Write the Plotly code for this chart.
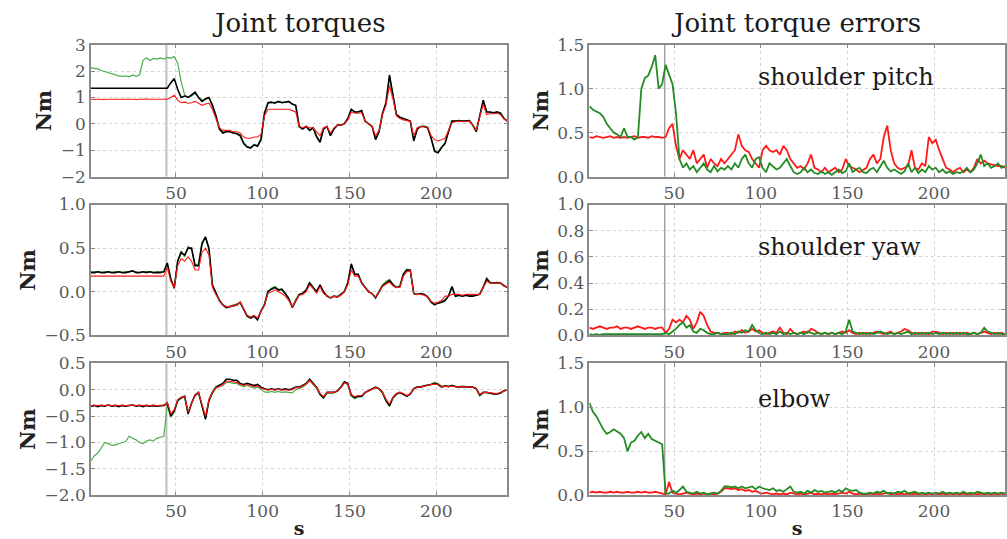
import plotly.graph_objects as go

# time axis (s)
t = list(range(1, 242, 2))

# ---------------- Joint torques: shoulder pitch ----------------
tau1_black = [
    1.35, 1.35, 1.36, 1.34, 1.35, 1.36, 1.35, 1.34, 1.35, 1.36,
    1.35, 1.34, 1.36, 1.35, 1.35, 1.36, 1.34, 1.35, 1.36, 1.35,
    1.35, 1.36, 1.35, 1.55, 1.72, 1.30, 1.00, 1.05, 1.00, 1.10,
    1.20, 1.00, 0.85, 0.95, 1.00, 0.70, 0.30, -0.20, -0.35, -0.30,
    -0.30, -0.35, -0.38, -0.45, -0.75, -0.88, -0.92, -0.80, -0.85, -0.60,
    0.40, 0.80, 0.82, 0.78, 0.85, 0.80, 0.82, 0.85, 0.75, 0.70,
    -0.10, -0.20, -0.10, -0.25, -0.15, -0.50, -0.70, -0.20, -0.10, -0.45,
    -0.20, -0.05, -0.05, 0.00, 0.20, 0.55, 0.45, 0.45, 0.50, 0.10,
    0.00, -0.10, -0.60, -0.30, 0.40, 0.80, 1.85, 1.10, 0.35, 0.25,
    0.20, 0.15, 0.10, -0.65, -0.20, -0.10, -0.10, -0.15, -0.55, -1.05,
    -1.10, -0.90, -0.75, -0.30, 0.10, 0.10, 0.12, 0.10, 0.10, 0.12,
    -0.05, -0.30, 0.30, 0.90, 0.45, 0.45, 0.42, 0.45, 0.40, 0.20,
    0.10]
tau1_green = [
    2.12, 2.10, 2.08, 2.02, 1.98, 1.92, 1.88, 1.85, 1.82, 1.80,
    1.82, 1.78, 1.85, 1.80, 1.85, 2.40, 2.50, 2.40, 2.48, 2.45,
    2.50, 2.45, 2.52, 2.48, 2.55, 2.30, 1.60, 1.10, 1.00, 1.05,
    1.15, 1.02, 0.90, 0.92, 0.98, 0.72, 0.35, -0.15, -0.30, -0.28,
    -0.28, -0.33, -0.36, -0.42, -0.70, -0.85, -0.90, -0.78, -0.82, -0.55,
    0.38, 0.78, 0.80, 0.80, 0.83, 0.82, 0.80, 0.83, 0.76, 0.68,
    -0.12, -0.18, -0.12, -0.22, -0.15, -0.45, -0.65, -0.20, -0.12, -0.40,
    -0.18, -0.05, -0.03, 0.00, 0.18, 0.52, 0.45, 0.47, 0.48, 0.12,
    0.00, -0.08, -0.55, -0.28, 0.38, 0.78, 1.75, 1.05, 0.35, 0.25,
    0.20, 0.15, 0.10, -0.60, -0.18, -0.10, -0.08, -0.15, -0.52, -1.00,
    -1.05, -0.88, -0.72, -0.28, 0.10, 0.12, 0.12, 0.10, 0.12, 0.12,
    -0.05, -0.28, 0.28, 0.85, 0.45, 0.43, 0.42, 0.43, 0.40, 0.20,
    0.10]
tau1_red = [
    0.93, 0.94, 0.93, 0.92, 0.93, 0.94, 0.93, 0.93, 0.92, 0.93,
    0.93, 0.94, 0.93, 0.92, 0.93, 0.93, 0.94, 0.93, 0.92, 0.93,
    0.93, 0.93, 0.93, 1.00, 1.08, 0.90, 0.80, 0.82, 0.78, 0.80,
    0.85, 0.78, 0.70, 0.75, 0.78, 0.55, 0.20, -0.15, -0.25, -0.25,
    -0.25, -0.30, -0.30, -0.35, -0.50, -0.55, -0.55, -0.50, -0.50, -0.40,
    0.30, 0.55, 0.55, 0.55, 0.55, 0.55, 0.55, 0.55, 0.50, 0.45,
    -0.10, -0.15, -0.10, -0.15, -0.15, -0.30, -0.45, -0.15, -0.10, -0.35,
    -0.15, -0.05, -0.05, 0.00, 0.15, 0.45, 0.40, 0.40, 0.42, 0.10,
    0.00, -0.10, -0.45, -0.25, 0.35, 0.70, 1.45, 0.95, 0.30, 0.20,
    0.15, 0.12, 0.10, -0.45, -0.15, -0.10, -0.10, -0.12, -0.45, -0.60,
    -0.65, -0.60, -0.55, -0.25, 0.05, 0.08, 0.10, 0.08, 0.08, 0.10,
    -0.05, -0.25, 0.25, 0.75, 0.35, 0.38, 0.38, 0.40, 0.35, 0.18,
    0.10]

# ---------------- Joint torques: shoulder yaw ----------------
tau2_black = [
    0.22, 0.22, 0.23, 0.22, 0.22, 0.23, 0.22, 0.22, 0.23, 0.22,
    0.22, 0.23, 0.24, 0.22, 0.22, 0.23, 0.22, 0.23, 0.22, 0.22,
    0.22, 0.23, 0.33, 0.15, 0.04, 0.35, 0.45, 0.42, 0.50, 0.50,
    0.30, 0.30, 0.55, 0.63, 0.50, 0.08, -0.02, -0.10, -0.15, -0.18,
    -0.17, -0.16, -0.15, -0.12, -0.20, -0.28, -0.30, -0.28, -0.32, -0.22,
    -0.15, 0.00, 0.03, 0.05, 0.02, 0.03, -0.02, -0.08, -0.18, -0.10,
    -0.03, -0.02, 0.02, 0.10, 0.05, 0.00, 0.08, 0.00, -0.05, -0.07,
    -0.05, -0.06, -0.03, 0.00, 0.10, 0.32, 0.20, 0.20, 0.10, 0.05,
    0.00, -0.02, -0.07, 0.00, 0.07, 0.10, 0.13, 0.08, 0.05, 0.06,
    0.20, 0.25, 0.25, -0.02, -0.03, -0.02, -0.03, -0.06, -0.12, -0.15,
    -0.13, -0.12, -0.10, -0.05, 0.06, -0.05, -0.04, -0.05, -0.04, -0.05,
    -0.05, -0.04, -0.03, 0.05, 0.15, 0.10, 0.10, 0.10, 0.10, 0.07,
    0.05]
tau2_green = [
    0.23, 0.23, 0.23, 0.22, 0.23, 0.23, 0.22, 0.23, 0.23, 0.22,
    0.23, 0.23, 0.24, 0.23, 0.22, 0.23, 0.23, 0.23, 0.22, 0.23,
    0.23, 0.23, 0.32, 0.14, 0.05, 0.36, 0.47, 0.40, 0.52, 0.48,
    0.31, 0.32, 0.57, 0.62, 0.48, 0.07, -0.02, -0.09, -0.15, -0.17,
    -0.17, -0.15, -0.14, -0.13, -0.20, -0.27, -0.29, -0.27, -0.31, -0.21,
    -0.14, 0.01, 0.04, 0.06, 0.03, 0.02, -0.02, -0.07, -0.17, -0.09,
    -0.03, -0.01, 0.02, 0.11, 0.04, 0.01, 0.07, 0.00, -0.04, -0.07,
    -0.05, -0.05, -0.03, 0.01, 0.11, 0.30, 0.21, 0.19, 0.11, 0.05,
    0.01, -0.02, -0.06, 0.01, 0.08, 0.12, 0.14, 0.09, 0.05, 0.06,
    0.21, 0.26, 0.24, -0.02, -0.03, -0.02, -0.03, -0.05, -0.11, -0.14,
    -0.13, -0.11, -0.09, -0.05, 0.05, -0.05, -0.04, -0.05, -0.04, -0.04,
    -0.05, -0.04, -0.02, 0.06, 0.16, 0.11, 0.10, 0.11, 0.10, 0.07,
    0.05]
tau2_red = [
    0.18, 0.18, 0.18, 0.18, 0.18, 0.18, 0.18, 0.18, 0.18, 0.18,
    0.18, 0.18, 0.18, 0.18, 0.18, 0.18, 0.18, 0.18, 0.18, 0.18,
    0.18, 0.18, 0.28, 0.12, 0.05, 0.30, 0.38, 0.35, 0.40, 0.35,
    0.25, 0.25, 0.45, 0.50, 0.42, 0.05, -0.03, -0.10, -0.15, -0.17,
    -0.17, -0.16, -0.15, -0.12, -0.20, -0.27, -0.29, -0.27, -0.30, -0.22,
    -0.15, -0.02, 0.00, 0.02, 0.00, -0.02, -0.05, -0.10, -0.17, -0.10,
    -0.04, -0.03, 0.00, 0.08, 0.04, -0.02, 0.06, -0.02, -0.05, -0.07,
    -0.05, -0.06, -0.04, 0.00, 0.08, 0.25, 0.18, 0.18, 0.10, 0.05,
    0.00, -0.02, -0.06, 0.00, 0.06, 0.09, 0.11, 0.07, 0.05, 0.05,
    0.18, 0.23, 0.24, -0.02, -0.03, -0.03, -0.04, -0.06, -0.11, -0.13,
    -0.12, -0.10, -0.05, -0.05, -0.03, -0.03, -0.03, -0.04, -0.03, -0.03,
    -0.03, -0.03, -0.03, 0.05, 0.12, 0.10, 0.10, 0.10, 0.10, 0.07,
    0.05]

# ---------------- Joint torques: elbow ----------------
tau3_black = [
    -0.31, -0.30, -0.32, -0.30, -0.31, -0.29, -0.31, -0.30, -0.32, -0.30,
    -0.31, -0.30, -0.29, -0.31, -0.30, -0.32, -0.30, -0.31, -0.30, -0.31,
    -0.30, -0.30, -0.25, -0.50, -0.40, -0.20, -0.15, -0.12, -0.45, -0.25,
    -0.10, -0.05, -0.30, -0.55, -0.20, -0.05, 0.05, 0.08, 0.12, 0.20,
    0.20, 0.18, 0.18, 0.12, 0.10, 0.12, 0.10, 0.08, 0.10, 0.05,
    0.02, 0.00, 0.02, 0.00, 0.02, 0.00, 0.02, 0.00, 0.02, 0.05,
    0.05, 0.08, 0.12, 0.20, 0.12, 0.05, -0.08, -0.15, -0.05, -0.05,
    -0.05, -0.02, 0.05, 0.15, 0.12, -0.10, -0.15, -0.12, -0.12, -0.05,
    -0.02, 0.02, 0.05, 0.02, -0.05, -0.20, -0.30, -0.15, -0.08, -0.05,
    -0.08, -0.12, -0.08, 0.02, 0.05, 0.05, 0.07, 0.08, 0.10, 0.12,
    0.10, 0.05, 0.07, 0.06, 0.08, 0.06, 0.05, 0.06, 0.05, 0.05,
    0.05, 0.02, -0.10, -0.05, -0.05, -0.07, -0.08, -0.08, -0.06, -0.02,
    0.00]
tau3_green = [
    -1.35, -1.25, -1.20, -1.10, -1.00, -1.02, -1.05, -1.05, -1.02, -1.00,
    -0.98, -0.88, -0.92, -0.95, -1.00, -1.02, -0.97, -0.95, -0.97, -0.92,
    -0.90, -0.88, -0.28, -0.52, -0.42, -0.22, -0.16, -0.13, -0.47, -0.26,
    -0.12, -0.06, -0.32, -0.57, -0.22, -0.07, 0.03, 0.05, 0.08, 0.14,
    0.14, 0.12, 0.12, 0.08, 0.06, 0.08, 0.05, 0.03, 0.05, 0.00,
    -0.04, -0.05, -0.03, -0.05, -0.03, -0.05, -0.04, -0.05, -0.06, 0.00,
    0.02, 0.05, 0.10, 0.18, 0.10, 0.03, -0.10, -0.16, -0.07, -0.06,
    -0.06, -0.03, 0.03, 0.13, 0.10, -0.12, -0.17, -0.14, -0.13, -0.06,
    -0.03, 0.01, 0.04, 0.01, -0.06, -0.22, -0.32, -0.16, -0.09, -0.06,
    -0.09, -0.13, -0.08, 0.03, 0.06, 0.06, 0.08, 0.09, 0.11, 0.14,
    0.12, 0.07, 0.08, 0.07, 0.09, 0.07, 0.06, 0.07, 0.06, 0.06,
    0.05, 0.02, -0.12, -0.06, -0.05, -0.07, -0.08, -0.08, -0.06, -0.02,
    0.00]
tau3_red = [
    -0.30, -0.29, -0.30, -0.29, -0.30, -0.29, -0.30, -0.29, -0.30, -0.29,
    -0.30, -0.29, -0.29, -0.30, -0.29, -0.30, -0.29, -0.30, -0.29, -0.30,
    -0.29, -0.29, -0.24, -0.45, -0.38, -0.19, -0.14, -0.12, -0.42, -0.24,
    -0.10, -0.05, -0.28, -0.50, -0.19, -0.05, 0.04, 0.06, 0.10, 0.16,
    0.16, 0.15, 0.14, 0.10, 0.08, 0.10, 0.08, 0.06, 0.07, 0.03,
    0.01, -0.01, 0.01, -0.01, 0.01, -0.01, 0.00, -0.01, 0.00, 0.04,
    0.04, 0.07, 0.11, 0.18, 0.11, 0.04, -0.07, -0.13, -0.05, -0.05,
    -0.05, -0.02, 0.04, 0.13, 0.11, -0.09, -0.13, -0.11, -0.11, -0.05,
    -0.02, 0.02, 0.04, 0.02, -0.05, -0.18, -0.27, -0.14, -0.07, -0.05,
    -0.07, -0.11, -0.07, 0.02, 0.05, 0.05, 0.07, 0.08, 0.10, 0.11,
    0.10, 0.05, 0.07, 0.06, 0.07, 0.06, 0.05, 0.06, 0.05, 0.05,
    0.05, 0.02, -0.09, -0.05, -0.05, -0.06, -0.07, -0.07, -0.05, -0.02,
    0.00]

# ---------------- Joint torque errors ----------------
err1_red = [
    0.45, 0.44, 0.46, 0.45, 0.44, 0.45, 0.46, 0.44, 0.45, 0.44,
    0.45, 0.44, 0.45, 0.46, 0.44, 0.45, 0.45, 0.44, 0.46, 0.45,
    0.45, 0.44, 0.45, 0.55, 0.60, 0.35, 0.20, 0.30, 0.25, 0.20,
    0.30, 0.15, 0.20, 0.25, 0.10, 0.20, 0.15, 0.12, 0.20, 0.15,
    0.20, 0.25, 0.30, 0.48, 0.35, 0.30, 0.28, 0.20, 0.15, 0.10,
    0.30, 0.35, 0.30, 0.28, 0.30, 0.25, 0.35, 0.30, 0.20, 0.15,
    0.10, 0.12, 0.08, 0.15, 0.25, 0.10, 0.08, 0.05, 0.10, 0.05,
    0.08, 0.10, 0.05, 0.08, 0.20, 0.12, 0.10, 0.08, 0.05, 0.08,
    0.10, 0.20, 0.25, 0.15, 0.20, 0.45, 0.58, 0.30, 0.15, 0.10,
    0.08, 0.10, 0.12, 0.30, 0.10, 0.08, 0.15, 0.12, 0.45, 0.38,
    0.42, 0.30, 0.20, 0.10, 0.08, 0.05, 0.08, 0.10, 0.05, 0.08,
    0.05, 0.10, 0.20, 0.15, 0.18, 0.15, 0.14, 0.13, 0.12, 0.12,
    0.10]
err1_green = [
    0.80, 0.76, 0.74, 0.72, 0.68, 0.60, 0.55, 0.50, 0.48, 0.45,
    0.55, 0.45, 0.45, 0.42, 0.45, 1.00, 1.12, 1.15, 1.25, 1.38,
    1.00, 1.05, 1.27, 1.15, 1.05, 0.72, 0.20, 0.10, 0.15, 0.08,
    0.12, 0.05, 0.10, 0.15, 0.08, 0.05, 0.12, 0.06, 0.10, 0.08,
    0.12, 0.08, 0.15, 0.10, 0.20, 0.25, 0.15, 0.10, 0.20, 0.22,
    0.10, 0.05, 0.15, 0.12, 0.08, 0.10, 0.15, 0.20, 0.12, 0.05,
    0.03, 0.05, 0.10, 0.05, 0.08, 0.04, 0.03, 0.06, 0.03, 0.05,
    0.02, 0.05, 0.08, 0.04, 0.06, 0.15, 0.05, 0.08, 0.10, 0.05,
    0.04, 0.08, 0.10, 0.05, 0.12, 0.18, 0.10, 0.06, 0.08, 0.05,
    0.03, 0.06, 0.15, 0.05, 0.10, 0.04, 0.08, 0.05, 0.12, 0.08,
    0.10, 0.05, 0.08, 0.04, 0.06, 0.03, 0.05, 0.04, 0.06, 0.10,
    0.05, 0.08, 0.15, 0.25, 0.12, 0.15, 0.10, 0.12, 0.15, 0.10,
    0.12]
err2_red = [
    0.06, 0.05, 0.06, 0.07, 0.06, 0.05, 0.06, 0.06, 0.07, 0.05,
    0.06, 0.06, 0.05, 0.06, 0.07, 0.06, 0.05, 0.06, 0.06, 0.05,
    0.06, 0.06, 0.02, 0.05, 0.12, 0.10, 0.12, 0.10, 0.15, 0.12,
    0.05, 0.10, 0.18, 0.15, 0.08, 0.03, 0.02, 0.02, 0.01, 0.02,
    0.02, 0.01, 0.03, 0.02, 0.04, 0.02, 0.03, 0.05, 0.03, 0.04,
    0.02, 0.01, 0.02, 0.03, 0.02, 0.06, 0.02, 0.01, 0.05, 0.02,
    0.01, 0.02, 0.03, 0.02, 0.05, 0.04, 0.02, 0.01, 0.02, 0.01,
    0.02, 0.01, 0.02, 0.03, 0.02, 0.04, 0.02, 0.01, 0.02, 0.01,
    0.02, 0.01, 0.02, 0.03, 0.02, 0.01, 0.02, 0.03, 0.01, 0.02,
    0.03, 0.05, 0.04, 0.02, 0.01, 0.02, 0.01, 0.02, 0.01, 0.03,
    0.03, 0.02, 0.01, 0.02, 0.01, 0.02, 0.01, 0.02, 0.01, 0.02,
    0.01, 0.02, 0.01, 0.02, 0.03, 0.02, 0.01, 0.02, 0.01, 0.02,
    0.01]
err2_green = [
    0.01, 0.005, 0.01, 0.005, 0.01, 0.01, 0.005, 0.01, 0.005, 0.01,
    0.01, 0.005, 0.01, 0.01, 0.005, 0.01, 0.005, 0.01, 0.01, 0.005,
    0.01, 0.01, 0.02, 0.01, 0.03, 0.05, 0.08, 0.10, 0.06, 0.08,
    0.03, 0.02, 0.05, 0.04, 0.02, 0.01, 0.01, 0.02, 0.01, 0.01,
    0.01, 0.02, 0.01, 0.03, 0.02, 0.04, 0.03, 0.08, 0.04, 0.02,
    0.01, 0.02, 0.01, 0.02, 0.01, 0.03, 0.01, 0.02, 0.01, 0.02,
    0.01, 0.02, 0.01, 0.03, 0.02, 0.01, 0.02, 0.01, 0.02, 0.01,
    0.02, 0.01, 0.02, 0.01, 0.03, 0.12, 0.03, 0.02, 0.01, 0.02,
    0.01, 0.02, 0.01, 0.02, 0.03, 0.02, 0.01, 0.02, 0.01, 0.02,
    0.01, 0.02, 0.03, 0.01, 0.02, 0.01, 0.02, 0.01, 0.02, 0.01,
    0.02, 0.01, 0.02, 0.01, 0.02, 0.01, 0.02, 0.01, 0.02, 0.01,
    0.01, 0.02, 0.01, 0.02, 0.06, 0.03, 0.02, 0.01, 0.02, 0.01,
    0.01]
err3_red = [
    0.03, 0.04, 0.03, 0.04, 0.03, 0.03, 0.04, 0.03, 0.04, 0.03,
    0.03, 0.04, 0.03, 0.03, 0.04, 0.03, 0.04, 0.03, 0.03, 0.04,
    0.03, 0.02, 0.01, 0.15, 0.03, 0.02, 0.01, 0.02, 0.03, 0.02,
    0.01, 0.02, 0.01, 0.02, 0.01, 0.02, 0.01, 0.02, 0.04, 0.08,
    0.08, 0.07, 0.08, 0.06, 0.07, 0.05, 0.06, 0.04, 0.05, 0.03,
    0.02, 0.03, 0.02, 0.01, 0.02, 0.01, 0.02, 0.01, 0.03, 0.02,
    0.01, 0.02, 0.01, 0.02, 0.03, 0.01, 0.02, 0.01, 0.02, 0.01,
    0.02, 0.01, 0.02, 0.03, 0.02, 0.04, 0.02, 0.01, 0.02, 0.01,
    0.01, 0.02, 0.01, 0.02, 0.01, 0.02, 0.03, 0.01, 0.02, 0.01,
    0.02, 0.01, 0.02, 0.01, 0.02, 0.01, 0.02, 0.01, 0.02, 0.01,
    0.02, 0.01, 0.02, 0.01, 0.02, 0.01, 0.02, 0.01, 0.02, 0.01,
    0.01, 0.02, 0.01, 0.02, 0.01, 0.02, 0.01, 0.02, 0.01, 0.02,
    0.01]
err3_green = [
    1.05, 0.95, 0.90, 0.82, 0.75, 0.70, 0.72, 0.75, 0.72, 0.70,
    0.65, 0.50, 0.60, 0.62, 0.68, 0.72, 0.65, 0.70, 0.64, 0.62,
    0.60, 0.58, 0.02, 0.02, 0.05, 0.03, 0.06, 0.10, 0.04, 0.03,
    0.02, 0.04, 0.02, 0.03, 0.01, 0.02, 0.03, 0.02, 0.05, 0.10,
    0.10, 0.09, 0.10, 0.08, 0.10, 0.08, 0.09, 0.10, 0.07, 0.10,
    0.08, 0.07, 0.06, 0.08, 0.05, 0.06, 0.04, 0.07, 0.10, 0.04,
    0.03, 0.04, 0.02, 0.05, 0.03, 0.06, 0.04, 0.05, 0.03, 0.04,
    0.05, 0.03, 0.06, 0.04, 0.08, 0.06, 0.05, 0.06, 0.03, 0.02,
    0.02, 0.03, 0.02, 0.04, 0.03, 0.05, 0.02, 0.03, 0.02, 0.04,
    0.03, 0.05, 0.02, 0.03, 0.04, 0.02, 0.03, 0.02, 0.03, 0.02,
    0.03, 0.02, 0.04, 0.02, 0.03, 0.02, 0.03, 0.02, 0.04, 0.02,
    0.03, 0.02, 0.04, 0.03, 0.02, 0.03, 0.02, 0.03, 0.02, 0.03,
    0.02]

switch_time = 44.5
x_ticks = [50, 100, 150, 200]
y_ticks = [
    [-2, -1, 0, 1, 2, 3], [0.0, 0.5, 1.0, 1.5],
    [-0.5, 0.0, 0.5, 1.0], [0.0, 0.2, 0.4, 0.6, 0.8, 1.0],
    [-2.0, -1.5, -1.0, -0.5, 0.0, 0.5], [0.0, 0.5, 1.0, 1.5],
]
y_ranges = [[-2, 3], [0, 1.5], [-0.5, 1.0], [0, 1.0], [-2.0, 0.5], [0, 1.5]]
y_formats = ["d", ".1f", ".1f", ".1f", ".1f", ".1f"]
joint_names = ["shoulder pitch", "shoulder yaw", "elbow"]

W, H = 1007, 539
xdom = [[91 / W, 508 / W], [590 / W, 1006 / W]]
ydom = [[1 - 173 / H, 1 - 36 / H], [1 - 338 / H, 1 - 202 / H], [1 - 504 / H, 1 - 367 / H]]

FONT = "DejaVu Serif"
GREEN_L = "#4cae4c"
GREEN_D = "#238b23"
RED = "#ff1a1a"

fig = go.Figure()

left_sets = [(tau1_black, tau1_green, tau1_red),
             (tau2_black, tau2_green, tau2_red),
             (tau3_black, tau3_green, tau3_red)]
right_sets = [(err1_red, err1_green), (err2_red, err2_green), (err3_red, err3_green)]

for r in range(3):
    for c in range(2):
        k = r * 2 + c + 1
        xa = "x" if k == 1 else f"x{k}"
        ya = "y" if k == 1 else f"y{k}"
        if c == 0:
            blk, grn, red = left_sets[r]
            fig.add_trace(go.Scatter(x=t, y=grn, mode="lines", line=dict(color=GREEN_L, width=1.2),
                                     xaxis=xa, yaxis=ya, showlegend=False))
            fig.add_trace(go.Scatter(x=t, y=blk, mode="lines", line=dict(color="black", width=1.6),
                                     xaxis=xa, yaxis=ya, showlegend=False))
            fig.add_trace(go.Scatter(x=t, y=red, mode="lines", line=dict(color=RED, width=1.1),
                                     xaxis=xa, yaxis=ya, showlegend=False))
            vcol, vw = "#bdbdbd", 2
        else:
            red, grn = right_sets[r]
            fig.add_trace(go.Scatter(x=t, y=red, mode="lines", line=dict(color=RED, width=1.8),
                                     xaxis=xa, yaxis=ya, showlegend=False))
            fig.add_trace(go.Scatter(x=t, y=grn, mode="lines", line=dict(color=GREEN_D, width=1.8),
                                     xaxis=xa, yaxis=ya, showlegend=False))
            vcol, vw = "#8f8f8f", 1.2
        # vertical marker line
        fig.add_shape(type="line", x0=switch_time, x1=switch_time, y0=0, y1=1,
                      xref=xa, yref=f"{ya} domain", line=dict(color=vcol, width=vw),
                      layer="below")
        axis_common = dict(showline=True, linecolor="#8a8a8a", linewidth=1.5, mirror="ticks",
                           ticks="inside", ticklen=4, tickcolor="#8a8a8a",
                           showgrid=True, gridcolor="#d4d4d4", griddash="dot", gridwidth=1,
                           zeroline=False,
                           tickfont=dict(family=FONT, size=17, color="#5a5a5a"))
        xkey = "xaxis" if k == 1 else f"xaxis{k}"
        ykey = "yaxis" if k == 1 else f"yaxis{k}"
        xd = dict(axis_common, domain=xdom[c], range=[1, 241], tickvals=x_ticks,
                  anchor=ya)
        if r == 2:
            xd["title"] = dict(text="<b>s</b>", font=dict(family=FONT, size=19, color="#222"),
                               standoff=4)
        yd = dict(axis_common, domain=ydom[r], range=y_ranges[k - 1], tickvals=y_ticks[k - 1],
                  tickformat=y_formats[k - 1], anchor=xa,
                  title=dict(text="<b>Nm</b>", font=dict(family=FONT, size=21, color="#222"),
                             standoff=3))
        fig.update_layout({xkey: xd, ykey: yd})

annot_font_title = dict(family=FONT, size=26, color="#1a1a1a")
annot_font_name = dict(family=FONT, size=24, color="#1a1a1a")
annotations = [
    dict(text="Joint torques", x=299 / W, y=1 - 14 / H, font=annot_font_title),
    dict(text="Joint torque errors", x=797 / W, y=1 - 14 / H, font=annot_font_title),
    dict(text=joint_names[0], x=847 / W, y=1 - 70 / H, font=annot_font_name),
    dict(text=joint_names[1], x=840 / W, y=1 - 246 / H, font=annot_font_name),
    dict(text=joint_names[2], x=795 / W, y=1 - 404 / H, font=annot_font_name),
]
for a in annotations:
    a.update(xref="paper", yref="paper", xanchor="center", yanchor="middle", showarrow=False)

fig.update_layout(width=W, height=H, margin=dict(l=0, r=0, t=0, b=0),
                  paper_bgcolor="white", plot_bgcolor="white",
                  annotations=annotations, showlegend=False)

fig.write_html("out.html")
